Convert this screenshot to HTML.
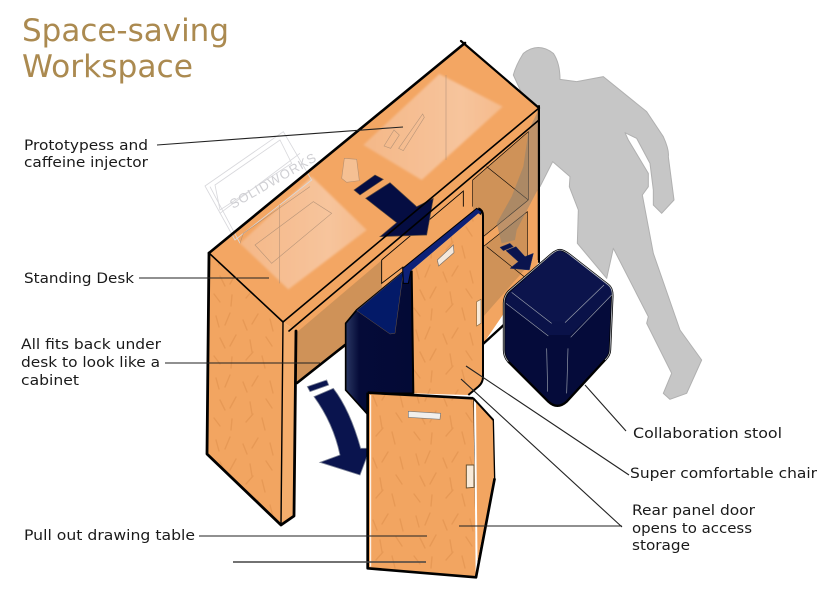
<!DOCTYPE html>
<html>
<head>
<meta charset="utf-8">
<style>
html,body{margin:0;padding:0;background:#fff;width:834px;height:599px;overflow:hidden}
svg{display:block}
.l{font-family:"DejaVu Sans",sans-serif;font-size:14px;fill:#1a1a1a}
.t{font-family:"DejaVu Sans",sans-serif;font-size:31px;fill:#ab8a50}
</style>
</head>
<body>
<svg width="834" height="599" viewBox="0 0 834 599" xmlns="http://www.w3.org/2000/svg">
<defs>
<pattern id="g" width="70" height="62" patternUnits="userSpaceOnUse">
<g stroke="#d98a48" stroke-width="1.4" fill="none" stroke-linecap="round" opacity=".45">
<path d="M6 6l3 11M20 3l-5 12M33 10l4 10M48 4l-6 10M60 9l3 12M10 28l5 10M26 25l-6 11M40 30l2 12M56 27l6 9M4 46l6 8M22 47l-1 11M36 50l7-8M52 46l3 12"/>
</g>
</pattern>
<pattern id="g3" width="70" height="62" patternUnits="userSpaceOnUse" patternTransform="scale(3)">
<g stroke="#d98a48" stroke-width="1.4" fill="none" stroke-linecap="round" opacity=".45">
<path d="M6 6l3 11M20 3l-5 12M33 10l4 10M48 4l-6 10M60 9l3 12M10 28l5 10M26 25l-6 11M40 30l2 12M56 27l6 9M4 46l6 8M22 47l-1 11M36 50l7-8M52 46l3 12"/>
</g>
</pattern>
<linearGradient id="lp" x1="0" y1="0" x2="1" y2="0"><stop offset="0" stop-color="#f4b888"/><stop offset=".7" stop-color="#f7c49c"/><stop offset="1" stop-color="#f5bb8c"/></linearGradient>
<linearGradient id="navy" x1="0" y1="0" x2="1" y2="0"><stop offset="0" stop-color="#2a3763"/><stop offset=".2" stop-color="#050b38"/><stop offset="1" stop-color="#030a36"/></linearGradient>
<filter id="b" x="-10%" y="-10%" width="120%" height="120%"><feGaussianBlur stdDeviation="3"/></filter>
</defs>

<!-- person silhouette -->
<g transform="translate(480,40) scale(.33333)">
<path d="M100 105Q108 75 130 40Q175 5 220 40Q240 70 240 118L290 125 370 110 500 215 550 290Q568 330 565 350L582 480 545 520 520 495 520 450 510 370 470 295 435 278 445 300 505 400 505 440 487 465 520 640 600 870 665 960 620 1060 570 1078 550 1060 575 1000 500 850 505 830 400 625 380 715 292 610 295 510 268 440 270 410 218 365 180 440 178 200 130 170Z" fill="#c6c6c6" stroke="#b0b0b0" stroke-width="3" stroke-linejoin="round"/>
</g>

<!-- desk right/front face -->
<polygon points="283,322 539,108 539,262 483,344 412,350 345,345 296,383 296,331" fill="#f2a561"/>
<polygon points="296,333 382,260 382,304 402,288 346,345 345,347 296,383" fill="#cf9258"/>
<polygon points="382,258 463,190 463,222 402,275 382,290" fill="#f2a561"/>
<!-- compartments -->
<g transform="translate(200,30) scale(.33333)">
<polygon points="818,450 985,305 985,510 850,620 820,580" fill="#cf9258"/>
<polygon points="850,650 982,545 982,710 850,860" fill="#cf9258"/>
<path d="M818 450L985 305 985 510M818 450V530M860 410L985 510M850 620L985 510M850 650L982 545 982 690M860 650L985 750" fill="none" stroke="#000" stroke-width="1.8"/>
<path d="M545 690L790 483V530" fill="none" stroke="#000" stroke-width="2.6"/>
<path d="M545 690V760L610 710" fill="none" stroke="#000" stroke-width="2.6"/>
<path d="M1015 240V690" stroke="#000" stroke-width="3.5" fill="none"/>
</g>
<g transform="translate(480,40) scale(.33333)">
<polygon points="178,205 146,270 130,380 95,470 50,550 65,610 105,600 110,570 178,440" fill="#8a7f72" opacity=".5"/>
</g>
<!-- small arrow in shelf -->
<g transform="translate(480,40) scale(.33333)" fill="#0a144e" stroke="#25305f" stroke-width="1.5">
<polygon points="60,622 90,610 100,620 70,632"/>
<polygon points="78,632 108,620 135,650 160,640 148,690 90,685 115,665"/>
</g>

<!-- desk top -->
<polygon points="209,253 465,43 539,108 283,322" fill="#f3a663"/>
<g transform="translate(200,30) scale(.33333)">
<polygon points="490,345 718,132 908,230 665,450" fill="url(#lp)" filter="url(#b)"/>
<polygon points="120,640 335,440 500,600 265,778" fill="url(#lp)" filter="url(#b)"/>
<!-- ghost sketch screen -->
<g fill="none" stroke="#d8d8dc" stroke-width="2.5">
<path d="M15 468L250 305 335 450 105 630Z"/>
<path d="M45 465L240 330 275 400 60 540Z"/>
<path d="M30 470L120 640M60 550L300 370"/>
</g>
<g fill="none" stroke="#a88a72" stroke-width="1.8" opacity=".8">
<path d="M738 135V390M238 525V760"/>
<path d="M552 348L582 300 598 315 572 355ZM596 355L668 252 673 262 610 362Z"/>
<path d="M120 640L130 610 330 470M165 645L340 515 395 550 215 700Z"/>
<polygon points="425,445 433,385 470,388 478,452 440,457" fill="#f6c7a0"/>
</g>
<!-- desk-top arrow -->
<g fill="#050d42" stroke="#5b4a3c" stroke-width="2">
<polygon points="462,480 525,435 550,448 480,495"/>
<polygon points="497,505 570,458 650,530 700,505 680,615 540,620 590,578"/>
</g>
</g>
<text x="233" y="209" transform="rotate(-30 233 209)" font-family="Liberation Sans,sans-serif" font-size="13" fill="#cfcfd3" letter-spacing="1">SOLIDWORKS</text>

<!-- left side panel -->
<polygon points="209,253 283,322 281,525 207,454" fill="#f2a561"/>
<polygon points="209,253 283,322 281,525 207,454" fill="url(#g)"/>
<polygon points="283,322 296,331 294,516 281,525" fill="#f4ad6c"/>

<!-- desk linework -->
<g fill="none" stroke="#000" stroke-linecap="round" stroke-linejoin="round">
<path d="M209 253L465 43" stroke-width="2.6"/>
<path d="M461 41L539 108" stroke-width="2.2"/>
<path d="M209 253L283 322 539 108" stroke-width="1.6"/>
<path d="M289 331L539 120" stroke-width="1.6"/>
<path d="M539 106V262" stroke-width="2"/>
<path d="M209 253L207 454 281 525 294 516 296 331" stroke-width="2.8"/>
<path d="M283 322L281 525" stroke-width="1.4"/>
<path d="M297 383L345 345" stroke-width="2.6"/>
<path d="M483 344L507 322" stroke-width="2.4"/>
</g>

<!-- chair back -->
<g transform="translate(200,200) scale(.33333)">
<polygon points="437,370 470,330 610,215 640,210 640,580 510,580 500,640 437,570" fill="url(#navy)" stroke="#000" stroke-width="5"/>
<polygon points="470,332 610,215 585,400 570,402" fill="#031a68" stroke="#6a5440" stroke-width="1.5"/>
<polygon points="608,205 830,25 846,35 840,45 632,215 625,250 610,250" fill="#0d2178" stroke="#000" stroke-width="3"/>
<path d="M635 212L835 42" stroke="#d9b48e" stroke-width="2" fill="none"/>
<path d="M635 212L835 40 849 50V530Q849 548 835 560L805 585 640 580Z" fill="#f2a561"/>
<path d="M635 212L835 40 849 50V530Q849 548 835 560L805 585 640 580Z" fill="url(#g3)"/>
<path d="M635 212L640 580M835 25Q850 30 849 50V530Q849 548 835 560L805 585" fill="none" stroke="#000" stroke-width="6"/>
<polygon points="712,180 760,135 762,158 716,198" fill="#f4e8dc" stroke="#77706a" stroke-width="2"/>
<polygon points="830,305 843,298 843,370 830,378" fill="#f8ead9" stroke="#8b6a42" stroke-width="2"/>
</g>

<!-- big arrow -->
<g transform="translate(200,200) scale(.33333)" fill="#0a144e" stroke="#7b8296" stroke-width="2.5">
<polygon points="322,560 380,540 386,555 330,575"/>
<path d="M342 590L400 565Q450 630 482 745L510 745 480 825 360 787 420 765Q400 670 342 590Z"/>
</g>

<!-- drawing table -->
<g transform="translate(200,200) scale(.33333)">
<polygon points="820,595 880,660 884,835 825,1135" fill="#f2a561" stroke="#000" stroke-width="4"/>
<polygon points="503,578 820,595 828,1132 503,1105" fill="#f2a561"/>
<polygon points="503,578 820,595 828,1132 503,1105" fill="url(#g3)"/>
<path d="M825 600L830 1130" stroke="#fff" stroke-width="6" fill="none"/>
<path d="M512 585V1100" stroke="#fff" stroke-width="3" fill="none"/>
<path d="M503 578L820 595M503 578V1105L828 1132 884 835" fill="none" stroke="#000" stroke-width="8" stroke-linejoin="round"/>
<path d="M820 595L880 660" fill="none" stroke="#000" stroke-width="6"/>
<polygon points="625,634 722,640 720,658 625,652" fill="#f1efec" stroke="#777" stroke-width="2"/>
<polygon points="799,795 822,795 822,862 799,864" fill="#f8ead9" stroke="#6b5230" stroke-width="3"/>
</g>

<!-- stool -->
<g transform="translate(480,40) scale(.33333)">
<path d="M240 630Q250 630 270 645L385 735Q398 745 397 770L390 930Q390 945 375 960L260 1085Q232 1110 205 1085L85 965Q72 950 72 930V790Q72 770 85 755L215 642Q230 630 240 630Z" fill="#050b3a" stroke="#000" stroke-width="7"/>
<path d="M240 632L270 645 385 735Q396 745 395 765L270 885H205L78 790Q78 770 90 757L215 644Q230 632 240 632Z" fill="#0a1249"/>
<path d="M240 632L270 645 385 735 255 845H215L95 755 215 644Z" fill="#0c144c"/>
<g fill="none" stroke="#9aa0ad" stroke-width="2">
<path d="M78 790L205 888M395 765L272 892M95 757L215 850M372 735L255 848M200 925L203 1055M264 925L260 1060"/>
<path d="M240 630Q250 630 270 645L385 735Q398 745 397 770L390 930Q390 945 375 960M85 965Q72 950 72 930V790Q72 770 85 755L215 642Q230 630 240 630" stroke="#b8bcc6" stroke-width="2.5"/>
</g>
</g>

<!-- leaders -->
<g fill="none" stroke="#222" stroke-width="1.1">
<path d="M157 145L403 127"/>
<path d="M139 278H269"/>
<path d="M165 363H320"/>
<path d="M199 536H427"/>
<path d="M233 562H426" stroke="#444" stroke-width="1.4"/>
<path d="M585 385L626 431"/>
<path d="M466 366L629 475"/>
<path d="M461 379L622 527"/>
<path d="M459 526H622"/>
</g>

<!-- text -->
<text class="t" x="22" y="41" textLength="207" lengthAdjust="spacingAndGlyphs">Space-saving</text>
<text class="t" x="22" y="77" textLength="171" lengthAdjust="spacingAndGlyphs">Workspace</text>
<text class="l" x="24" y="150" textLength="124" lengthAdjust="spacingAndGlyphs">Prototypess and</text>
<text class="l" x="24" y="167" textLength="124" lengthAdjust="spacingAndGlyphs">caffeine injector</text>
<text class="l" x="24" y="283" textLength="110" lengthAdjust="spacingAndGlyphs">Standing Desk</text>
<text class="l" x="21" y="349" textLength="140" lengthAdjust="spacingAndGlyphs">All fits back under</text>
<text class="l" x="21" y="367" textLength="139" lengthAdjust="spacingAndGlyphs">desk to look like a</text>
<text class="l" x="21" y="385" textLength="58" lengthAdjust="spacingAndGlyphs">cabinet</text>
<text class="l" x="24" y="540" textLength="171" lengthAdjust="spacingAndGlyphs">Pull out drawing table</text>
<text class="l" x="633" y="438" textLength="149" lengthAdjust="spacingAndGlyphs">Collaboration stool</text>
<text class="l" x="630" y="478" textLength="187" lengthAdjust="spacingAndGlyphs">Super comfortable chair</text>
<text class="l" x="632" y="515" textLength="123" lengthAdjust="spacingAndGlyphs">Rear panel door</text>
<text class="l" x="632" y="533" textLength="120" lengthAdjust="spacingAndGlyphs">opens to access</text>
<text class="l" x="632" y="550" textLength="58" lengthAdjust="spacingAndGlyphs">storage</text>
</svg>
</body>
</html>
